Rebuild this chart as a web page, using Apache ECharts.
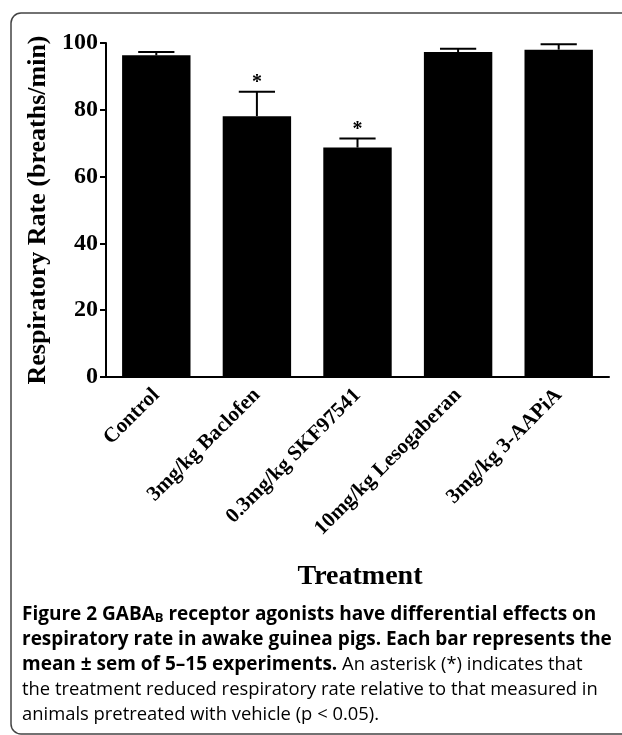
<!DOCTYPE html>
<html>
<head>
<meta charset="utf-8">
<script src="https://cdn.jsdelivr.net/npm/echarts@6/dist/echarts.min.js"></script>
<style>
  html, body { margin: 0; padding: 0; background: #fff; }
  #main { width: 622px; height: 735px; }
</style>
</head>
<body>
<div id="main"></div>
<script>
// treatments on the x axis
const categories = ['Control', '3mg/kg Baclofen', '0.3mg/kg SKF97541', '10mg/kg Lesogaberan', '3mg/kg 3-AAPiA'];
// mean respiratory rate (breaths/min)
const means = [96.3, 78.1, 68.7, 97.3, 98.0];
// sem (upper error bar only)
const sems = [1.0, 7.3, 2.7, 1.0, 1.6];
// asterisk = p < 0.05 vs vehicle
const significant = [false, true, true, false, false];
const yMin = 0, yMax = 100, yStep = 20;

const serif = '"Liberation Serif", "Times New Roman", serif';
const sans = '"Open Sans", "Noto Sans", sans-serif';

const chart = echarts.init(document.getElementById('main'));

// error bars + asterisks
const renderErr = (params, api) => {
  const i = api.value(0);
  const base = api.coord([i, api.value(1)]);
  const top = api.coord([i, api.value(1) + api.value(2)]);
  const half = api.size([1, 0])[0] * 0.18;
  const children = [
    { type: 'line', shape: { x1: base[0], y1: base[1], x2: top[0], y2: top[1] }, style: { stroke: '#000', lineWidth: 2 } },
    { type: 'line', shape: { x1: top[0] - half, y1: top[1], x2: top[0] + half, y2: top[1] }, style: { stroke: '#000', lineWidth: 2 } }
  ];
  if (significant[i]) {
    children.push({
      type: 'text',
      style: { text: '*', x: top[0], y: top[1] - 9, align: 'center', verticalAlign: 'middle', font: 'bold 20px ' + serif, fill: '#000' }
    });
  }
  return { type: 'group', children: children };
};

const capStyle = {
  b: { fontFamily: sans, fontWeight: 'bold', fontSize: 19, color: '#231f20' },
  sub: { fontFamily: sans, fontWeight: 'bold', fontSize: 13, color: '#231f20', verticalAlign: 'bottom', padding: [7, 0, 0, 0] },
  r: { fontFamily: sans, fontSize: 18.4, color: '#4d4d4d' }
};
const capLines = [
  '{b|Figure 2 GABA}{sub|B}{b| receptor agonists have differential effects on}',
  '{b|respiratory rate in awake guinea pigs. Each bar represents the}',
  '{b|mean ± sem of 5–15 experiments.}{r| An asterisk (*) indicates that}',
  '{r|the treatment reduced respiratory rate relative to that measured in}',
  '{r|animals pretreated with vehicle (p < 0.05).}'
];

const option = {
  animation: false,
  grid: { left: 106, right: 13, top: 43, bottom: 358, containLabel: false },
  xAxis: {
    type: 'category',
    data: categories,
    axisLine: { lineStyle: { color: '#000', width: 2 } },
    axisTick: { alignWithLabel: true, length: 6, lineStyle: { color: '#000', width: 2 } },
    axisLabel: { rotate: 45, margin: 15, fontFamily: serif, fontWeight: 'bold', fontSize: 21, color: '#000' }
  },
  yAxis: {
    type: 'value',
    min: yMin, max: yMax, interval: yStep,
    name: 'Respiratory Rate (breaths/min)',
    nameLocation: 'middle',
    nameGap: 50,
    nameTextStyle: { fontFamily: serif, fontWeight: 'bold', fontSize: 26, color: '#000' },
    axisLine: { show: true, lineStyle: { color: '#000', width: 2 } },
    axisTick: { show: true, length: 6, lineStyle: { color: '#000', width: 2 } },
    axisLabel: { margin: 8, fontFamily: serif, fontWeight: 'bold', fontSize: 24, color: '#000' },
    splitLine: { show: false }
  },
  series: [
    {
      type: 'bar',
      data: means,
      barCategoryGap: '32%',
      itemStyle: { color: '#000' }
    },
    {
      type: 'custom',
      renderItem: renderErr,
      data: means.map((m, i) => [i, m, sems[i]]),
      encode: { x: 0, y: 1 },
      z: 3
    }
  ],
  graphic: [
    {
      type: 'rect',
      shape: { x: 11, y: 13, width: 640, height: 721, r: 10 },
      style: { fill: 'none', stroke: '#444', lineWidth: 1.5 }
    },
    {
      type: 'text',
      x: 360, y: 577,
      style: { text: 'Treatment', align: 'center', verticalAlign: 'middle', font: 'bold 28px ' + serif, fill: '#000' }
    },
    ...capLines.map((t, k) => ({
      type: 'text',
      x: 22, y: 615 + k * 25,
      style: { text: t, rich: capStyle, verticalAlign: 'middle', align: 'left' }
    }))
  ]
};

chart.setOption(option);
</script>
</body>
</html>
